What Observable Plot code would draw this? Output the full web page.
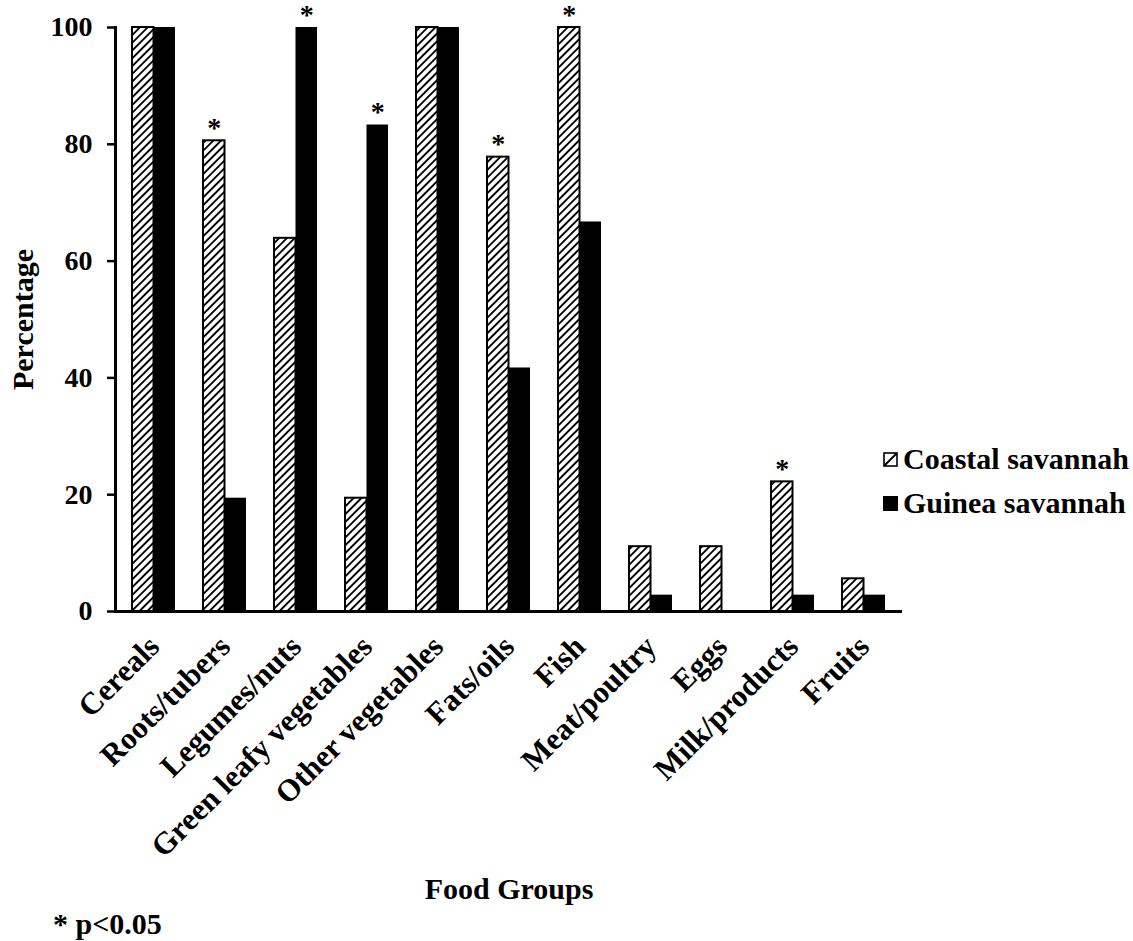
<!DOCTYPE html>
<html>
<head>
<meta charset="utf-8">
<script src="https://cdn.jsdelivr.net/npm/d3@7"></script>
<script src="https://cdn.jsdelivr.net/npm/@observablehq/plot@0.6"></script>
<style>
  body { margin: 0; background: #fff; }
  #wrap { position: relative; width: 1133px; height: 941px; font-family: "Liberation Serif", "Times New Roman", serif; font-weight: bold; color: #000; }
  #wrap > svg { position: absolute; left: 0; top: 0; }
  .legend { position: absolute; left: 883px; top: 437px; font-size: 30px; line-height: 1; }
  .legend .row { display: flex; align-items: center; height: 44px; white-space: nowrap; }
  .legend svg { margin-right: 5px; flex: none; }
  .note { position: absolute; left: 53px; top: 907px; font-size: 30px; white-space: nowrap; }
</style>
</head>
<body>
<div id="wrap"></div>
<script>
const categories = ["Cereals", "Roots/tubers", "Legumes/nuts", "Green leafy vegetables", "Other vegetables", "Fats/oils", "Fish", "Meat/poultry", "Eggs", "Milk/products", "Fruits"];
const coastal = [100, 80.6, 63.9, 19.4, 100, 77.8, 100, 11.1, 11.1, 22.2, 5.6];
const guinea = [100, 19.4, 100, 83.3, 100, 41.7, 66.7, 2.8, 0, 2.8, 2.8];
const coastalSig = [false, true, false, false, false, true, true, false, false, true, false];
const guineaSig = [false, false, true, true, false, false, false, false, false, false, false];
const yTicks = [0, 20, 40, 60, 80, 100];
const seriesNames = ["Coastal savannah", "Guinea savannah"];
const yTitle = "Percentage";
const xTitle = "Food Groups";

const data = categories.map((c, i) => ({
  category: c, coastal: coastal[i], guinea: guinea[i], cSig: coastalSig[i], gSig: guineaSig[i]
}));

const font = '"Liberation Serif", "Times New Roman", serif';

const chart = Plot.plot({
  width: 1133,
  height: 941,
  marginTop: 27,
  marginBottom: 330,
  marginLeft: 115,
  marginRight: 231,
  style: { fontFamily: font, fontWeight: "bold", color: "black", background: "white", fontSize: "27px" },
  x: { domain: categories, paddingInner: 0.4, paddingOuter: 0.19 },
  y: { domain: [0, 100] },
  marks: [
    Plot.barY(data, { x: "category", y: "coastal", fill: "url(#hatch)", stroke: "black", strokeWidth: 2, insetRight: 21.5 }),
    Plot.barY(data, { x: "category", y: "guinea", fill: "black", insetLeft: 21.5 }),
    Plot.text(data.filter(d => d.cSig), { x: "category", y: "coastal", text: () => "*", dx: -10.75, dy: -4, lineAnchor: "bottom", fontSize: 28, fontWeight: "bold" }),
    Plot.text(data.filter(d => d.gSig), { x: "category", y: "guinea", text: () => "*", dx: 10.75, dy: -4, lineAnchor: "bottom", fontSize: 28, fontWeight: "bold" }),
    Plot.axisY({ ticks: yTicks, tickSize: 8, tickPadding: 15, fontSize: 28, fontWeight: "bold", strokeWidth: 2.5, label: null }),
    Plot.axisX({ tickRotate: -45, tickSize: 0, tickPadding: 30, fontSize: 31, fontWeight: "bold", label: null }),
    Plot.text([yTitle], { frameAnchor: "left", dx: -92, rotate: -90, textAnchor: "middle", lineAnchor: "middle", fontSize: 30, fontWeight: "bold" }),
    Plot.text([xTitle], { frameAnchor: "bottom", dy: 287, textAnchor: "middle", fontSize: 30, fontWeight: "bold" }),
    Plot.frame({ anchor: "left", strokeWidth: 3 }),
    Plot.ruleY([0], { strokeWidth: 3 })
  ]
});

// hatch pattern definition
const defs = d3.select(chart).insert("defs", ":first-child");
const pat = defs.append("pattern")
  .attr("id", "hatch")
  .attr("patternUnits", "userSpaceOnUse")
  .attr("width", 5.5).attr("height", 5.5)
  .attr("patternTransform", "rotate(45)");
pat.append("rect").attr("width", 5.5).attr("height", 5.5).attr("fill", "white");
pat.append("line").attr("x1", 2.75).attr("y1", 0).attr("x2", 2.75).attr("y2", 5.5)
  .attr("stroke", "black").attr("stroke-width", 1.9);

const wrap = document.getElementById("wrap");
wrap.appendChild(chart);

// legend
const legend = document.createElement("div");
legend.className = "legend";
legend.innerHTML =
  `<div class="row"><svg width="15" height="15"><rect x="1" y="1" width="13" height="13" fill="white" stroke="black" stroke-width="1.6"/><line x1="1.5" y1="13.5" x2="13.5" y2="1.5" stroke="black" stroke-width="2"/></svg><span>${seriesNames[0]}</span></div>` +
  `<div class="row"><svg width="15" height="15"><rect x="0" y="0" width="15" height="15" fill="black"/></svg><span>${seriesNames[1]}</span></div>`;
wrap.appendChild(legend);

const note = document.createElement("div");
note.className = "note";
note.textContent = "* p<0.05";
wrap.appendChild(note);
</script>
</body>
</html>
